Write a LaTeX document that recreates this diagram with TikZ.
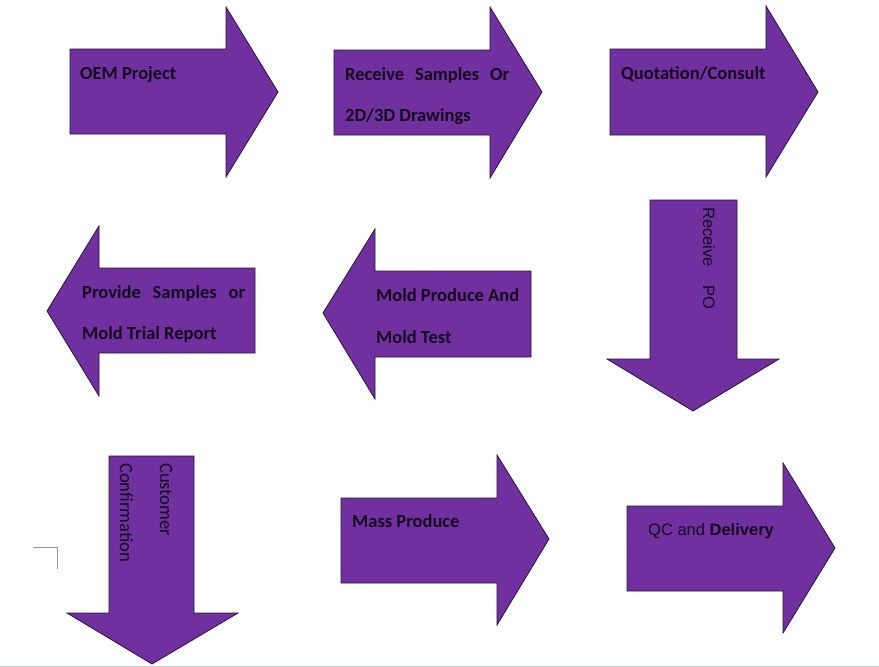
\documentclass[tikz,border=0pt]{standalone}
\usepackage{fontspec}
\setmainfont{Carlito}
\newfontfamily\arialf{Liberation Sans}
\definecolor{arrowpurple}{RGB}{112,48,160}
\definecolor{edgedark}{RGB}{40,20,50}
\definecolor{txtdark}{RGB}{20,10,30}
\definecolor{markgrey}{RGB}{150,150,150}
\definecolor{pagegrey}{RGB}{200,204,210}
\begin{document}
\begin{tikzpicture}[x=1pt,y=-1pt,
  arrowshape/.style={fill=arrowpurple,draw=edgedark,line width=0.8pt,line join=miter},
  boldlbl/.style={anchor=base west,inner sep=0pt,text=txtdark,font=\fontsize{18.5}{20}\selectfont\bfseries},
  plainlbl/.style={anchor=base west,inner sep=0pt,text=txtdark,font=\fontsize{18.5}{20}\selectfont},
  ariallbl/.style={anchor=base west,inner sep=0pt,text=txtdark,font=\arialf\fontsize{16.5}{18}\selectfont}]
\useasboundingbox (0,0) rectangle (879,667);
\fill[white] (0,0) rectangle (879,667);
% row 1
\draw[arrowshape] (70,49) -- (226,49) -- (226,7) -- (278,92) -- (226,177) -- (226,134) -- (70,134) -- cycle;
\draw[arrowshape] (334,50) -- (490,50) -- (490,7) -- (542,92) -- (490,178) -- (490,135) -- (334,135) -- cycle;
\draw[arrowshape] (610,49) -- (766,49) -- (766,6) -- (818,92) -- (766,177) -- (766,135) -- (610,135) -- cycle;
% row 2
\draw[arrowshape] (255,268) -- (99,268) -- (99,226) -- (47,311) -- (99,396) -- (99,353) -- (255,353) -- cycle;
\draw[arrowshape] (531,271) -- (375,271) -- (375,229) -- (323,313) -- (375,399) -- (375,357) -- (531,357) -- cycle;
\draw[arrowshape] (650,200) -- (737,200) -- (737,359) -- (779,359) -- (693,411) -- (607,359) -- (650,359) -- cycle;
% row 3
\draw[arrowshape] (109,456) -- (194,456) -- (194,613) -- (238,613) -- (152,664) -- (67,613) -- (109,613) -- cycle;
\draw[arrowshape] (341,498) -- (497,498) -- (497,455) -- (549,539) -- (497,625) -- (497,583) -- (341,583) -- cycle;
\draw[arrowshape] (627,506) -- (783,506) -- (783,463) -- (835,548) -- (783,633) -- (783,591) -- (627,591) -- cycle;
% labels
\node[boldlbl] (t1) at (80,79) {OEM Project};
\node[boldlbl] (t2a) at (345,80) {\makebox[164pt][s]{Receive Samples Or}};
\node[boldlbl] (t2b) at (345,121) {2D/3D Drawings};
\node[boldlbl] (t3) at (621,79) {Quotation/Consult};
\node[boldlbl] (t4a) at (82,298) {\makebox[163pt][s]{Provide Samples or}};
\node[boldlbl] (t4b) at (82,339) {Mold Trial Report};
\node[boldlbl] (t5a) at (376,301) {Mold Produce And};
\node[boldlbl] (t5b) at (376,343) {Mold Test};
\node[ariallbl,rotate=-90] (t6) at (703,207) {Receive\hspace{19pt}PO};
\node[plainlbl,rotate=-90] (t7a) at (160,463) {Customer};
\node[plainlbl,rotate=-90] (t7b) at (120,463) {Confirmation};
\node[boldlbl] (t8) at (352,527) {Mass Produce};
\node[ariallbl] (t9) at (648,535) {QC and \textbf{Delivery}};
% page marks
\draw[markgrey,line width=0.8pt] (33,547) -- (57,547) -- (57,569);
\draw[pagegrey,line width=1pt] (0,666) -- (879,666);
\end{tikzpicture}
\end{document}
